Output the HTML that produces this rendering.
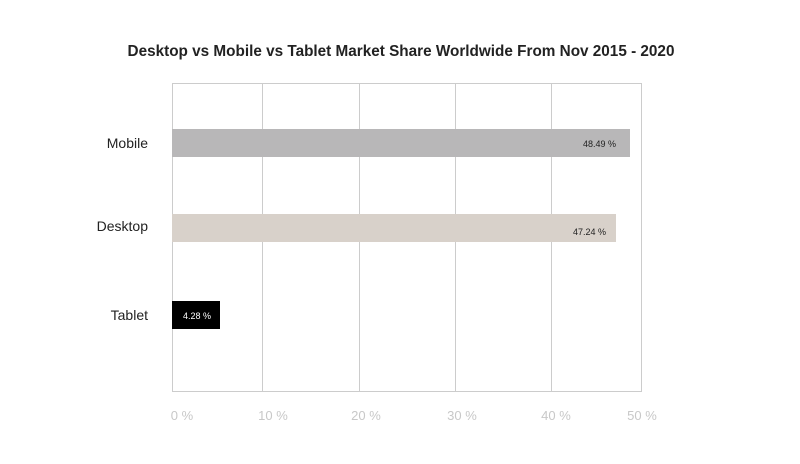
<!DOCTYPE html>
<html><head><style>
body{margin:0;background:#fff;}
svg{display:block;font-family:"Liberation Sans",sans-serif;}
</style></head><body>
<svg width="800" height="464" viewBox="0 0 800 464">
<rect width="800" height="464" fill="#fff"/>
<text x="401" y="56" text-anchor="middle" font-size="15.3" font-weight="bold" fill="#222">Desktop vs Mobile vs Tablet Market Share Worldwide From Nov 2015  - 2020</text>
<g stroke="#cccccc" stroke-width="1">
<line x1="172.5" y1="83" x2="172.5" y2="392"/>
<line x1="262.5" y1="83" x2="262.5" y2="392"/>
<line x1="359.5" y1="83" x2="359.5" y2="392"/>
<line x1="455.5" y1="83" x2="455.5" y2="392"/>
<line x1="551.5" y1="83" x2="551.5" y2="392"/>
<line x1="641.5" y1="83" x2="641.5" y2="392"/>
<line x1="172" y1="83.5" x2="642" y2="83.5"/>
<line x1="172" y1="391.5" x2="642" y2="391.5"/>
</g>
<rect x="172" y="129" width="458" height="28" fill="#b8b7b8"/>
<rect x="172" y="214" width="444" height="28" fill="#d8d1ca"/>
<rect x="172" y="301" width="48" height="28" fill="#000"/>
<text x="616" y="147" text-anchor="end" font-size="9" fill="#222">48.49 %</text>
<text x="606" y="235" text-anchor="end" font-size="9" fill="#222">47.24 %</text>
<text x="183" y="319" font-size="9" fill="#fff">4.28 %</text>
<g font-size="14" fill="#222" text-anchor="end">
<text x="148" y="148">Mobile</text>
<text x="148" y="231">Desktop</text>
<text x="148" y="320">Tablet</text>
</g>
<g font-size="13" fill="#c8c8c8" text-anchor="middle">
<text x="182" y="420">0 %</text>
<text x="273" y="420">10 %</text>
<text x="366" y="420">20 %</text>
<text x="462" y="420">30 %</text>
<text x="556" y="420">40 %</text>
<text x="642" y="420">50 %</text>
</g>
</svg>
</body></html>
